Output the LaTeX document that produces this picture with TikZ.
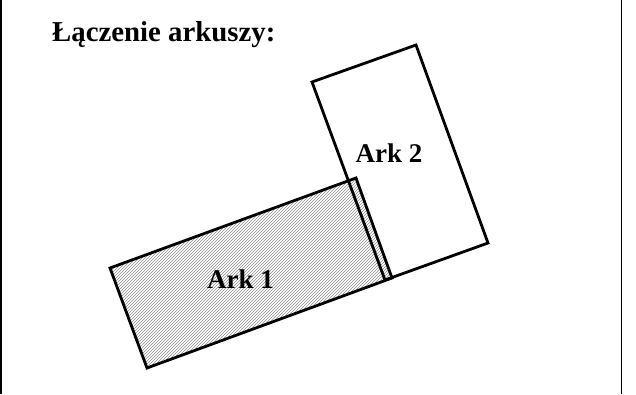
\documentclass[tikz,border=0pt]{standalone}
\usepackage{fontspec}
\setmainfont{Liberation Serif}
\usetikzlibrary{patterns}
\begin{document}
\begin{tikzpicture}[x=1pt,y=-1pt,
  sheet/.style={draw=black,line width=2.8pt,line join=miter},
  hatched/.style={pattern=north east lines,pattern color=black!45},
  frameline/.style={draw=black,line width=1.5pt},
  lbl/.style={font=\fontsize{27}{28}\selectfont\bfseries,inner sep=0pt,anchor=base},
  ttl/.style={font=\fontsize{28.8}{30}\selectfont\bfseries,inner sep=0pt,anchor=base west}]
\useasboundingbox (0,0) rectangle (636,394);
% frame sides
\draw[frameline] (1,0) -- (1,394);
\draw[frameline] (621.5,0) -- (621.5,394);
% sheet 1 corners
\coordinate (a1) at (110,268);
\coordinate (b1) at (356,178);
\coordinate (c1) at (392,278);
\coordinate (d1) at (147,368);
% sheet 2 corners
\coordinate (a2) at (312,82);
\coordinate (b2) at (416,45);
\coordinate (c2) at (488,243);
\coordinate (d2) at (385,280);
\fill[hatched] (a1) -- (b1) -- (c1) -- (d1) -- cycle;
\draw[sheet] (a1) -- (b1) -- (c1) -- (d1) -- cycle;
\draw[sheet] (a2) -- (b2) -- (c2) -- (d2) -- cycle;
\node[ttl] (title) at (52,41) {Łączenie arkuszy:};
\node[lbl] (ark1) at (240.5,288) {Ark 1};
\node[lbl] (ark2) at (389,162) {Ark 2};
\end{tikzpicture}
\end{document}
